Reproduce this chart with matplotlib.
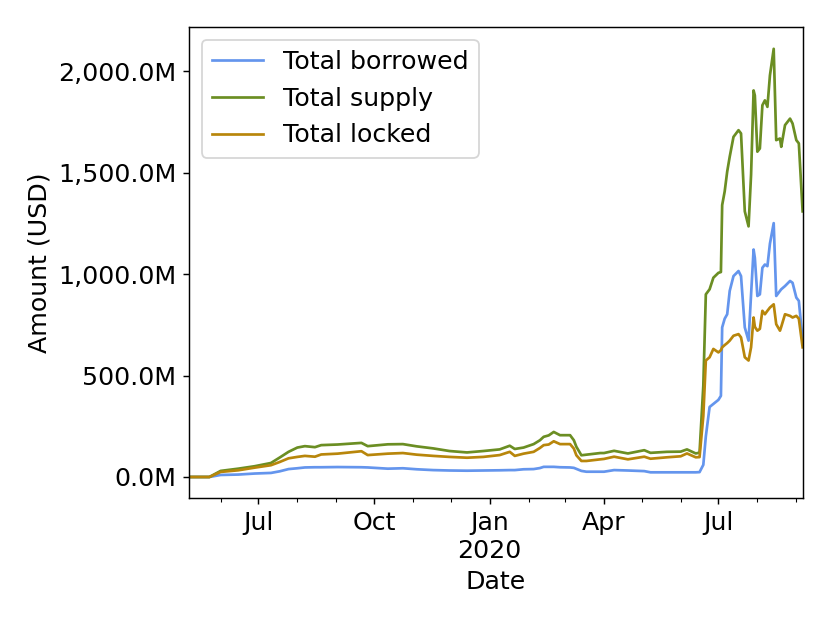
import matplotlib
matplotlib.use("Agg")
import matplotlib.pyplot as plt
import matplotlib.dates as mdates
from matplotlib.ticker import FuncFormatter
import pandas as pd

# values, in millions of USD
dates = [
    "2019-05-07", "2019-05-23", "2019-06-01", "2019-06-15", "2019-06-28",
    "2019-07-11", "2019-07-18", "2019-07-25", "2019-08-01", "2019-08-07",
    "2019-08-15", "2019-08-20", "2019-09-02", "2019-09-21", "2019-09-26",
    "2019-10-12", "2019-10-24", "2019-11-04", "2019-11-17", "2019-11-30",
    "2019-12-14", "2019-12-27", "2020-01-09", "2020-01-17", "2020-01-21",
    "2020-01-28", "2020-02-05", "2020-02-10", "2020-02-13", "2020-02-17",
    "2020-02-21", "2020-02-26", "2020-03-05", "2020-03-08", "2020-03-10",
    "2020-03-14", "2020-03-18", "2020-03-29", "2020-04-01", "2020-04-09",
    "2020-04-20", "2020-05-03", "2020-05-08", "2020-05-21", "2020-06-01",
    "2020-06-06", "2020-06-13", "2020-06-16", "2020-06-19", "2020-06-21",
    "2020-06-24", "2020-06-27", "2020-07-01", "2020-07-03", "2020-07-04",
    "2020-07-06", "2020-07-08", "2020-07-10", "2020-07-13", "2020-07-17",
    "2020-07-19", "2020-07-22", "2020-07-25", "2020-07-27", "2020-07-29",
    "2020-07-30", "2020-08-01", "2020-08-03", "2020-08-05", "2020-08-07",
    "2020-08-09", "2020-08-11", "2020-08-14", "2020-08-16", "2020-08-19",
    "2020-08-20", "2020-08-23", "2020-08-27", "2020-08-29", "2020-09-01",
    "2020-09-03", "2020-09-06",
]

total_borrowed = [
    0, 0, 10, 12, 17,
    20, 28, 39, 43, 47,
    48, 48, 49, 48, 47,
    41, 43, 38, 34, 32,
    31, 32, 33, 34, 34,
    38, 39, 44, 50, 50,
    50, 48, 47, 45, 40,
    30, 26, 26, 26, 34,
    32, 29, 23, 23, 23,
    23, 23, 24, 60, 200,
    345, 360, 380, 400, 737,
    780, 802, 917, 990, 1015,
    990, 737, 672, 900, 1121,
    1080, 892, 900, 1031, 1047,
    1039, 1150, 1251, 892, 917,
    925, 941, 966, 957, 884,
    868, 672,
]

total_supply = [
    0, 0, 30, 41, 53,
    69, 96, 124, 145, 152,
    147, 157, 160, 168, 152,
    161, 162, 151, 141, 128,
    121, 128, 136, 154, 138,
    145, 162, 181, 198, 205,
    222, 206, 206, 181, 149,
    107, 110, 118, 118, 129,
    116, 132, 119, 124, 125,
    136, 116, 120, 450, 900,
    925, 982, 1006, 1010, 1340,
    1407, 1505, 1578, 1676, 1709,
    1693, 1309, 1235, 1490, 1905,
    1880, 1603, 1619, 1832, 1856,
    1824, 1979, 2110, 1660, 1668,
    1627, 1734, 1766, 1742, 1660,
    1644, 1309,
]

total_locked = [
    0, 0, 25, 33, 46,
    58, 74, 92, 99, 104,
    100, 111, 115, 127, 108,
    115, 118, 110, 104, 99,
    95, 99, 108, 124, 104,
    115, 124, 143, 157, 160,
    176, 162, 162, 140, 107,
    79, 79, 87, 89, 100,
    87, 100, 90, 97, 102,
    116, 97, 98, 300, 574,
    590, 631, 614, 625, 639,
    650, 660, 672, 696, 704,
    688, 590, 574, 639, 786,
    740, 721, 730, 819, 802,
    819, 835, 851, 753, 721,
    740, 802, 794, 786, 794,
    780, 639,
]

x = pd.to_datetime(dates)

fig, ax = plt.subplots(figsize=(830 / 130, 623 / 130), dpi=130)
fig.subplots_adjust(left=0.228, right=0.967, bottom=0.200, top=0.956)

ax.plot(x, total_borrowed, color="cornflowerblue", linewidth=1.5, label="Total borrowed")
ax.plot(x, total_supply, color="olivedrab", linewidth=1.5, label="Total supply")
ax.plot(x, total_locked, color="darkgoldenrod", linewidth=1.5, label="Total locked")

ax.set_xlim(x[0], x[-1])


def month_label(val, pos):
    d = mdates.num2date(val)
    lab = d.strftime("%b")
    if d.month == 1:
        lab += "\n" + str(d.year)
    return lab


ax.xaxis.set_major_locator(mdates.MonthLocator(bymonth=[1, 4, 7, 10]))
ax.xaxis.set_major_formatter(FuncFormatter(month_label))
ax.xaxis.set_minor_locator(mdates.MonthLocator())
ax.yaxis.set_major_formatter(FuncFormatter(lambda v, p: f"{v:,.1f}M"))

ax.tick_params(labelsize=14)
ax.set_xlabel("Date", fontsize=14)
ax.set_ylabel("Amount (USD)", fontsize=14)
ax.legend(loc="upper left", fontsize=14)

fig.savefig("out.png", dpi=130)
plt.close(fig)
